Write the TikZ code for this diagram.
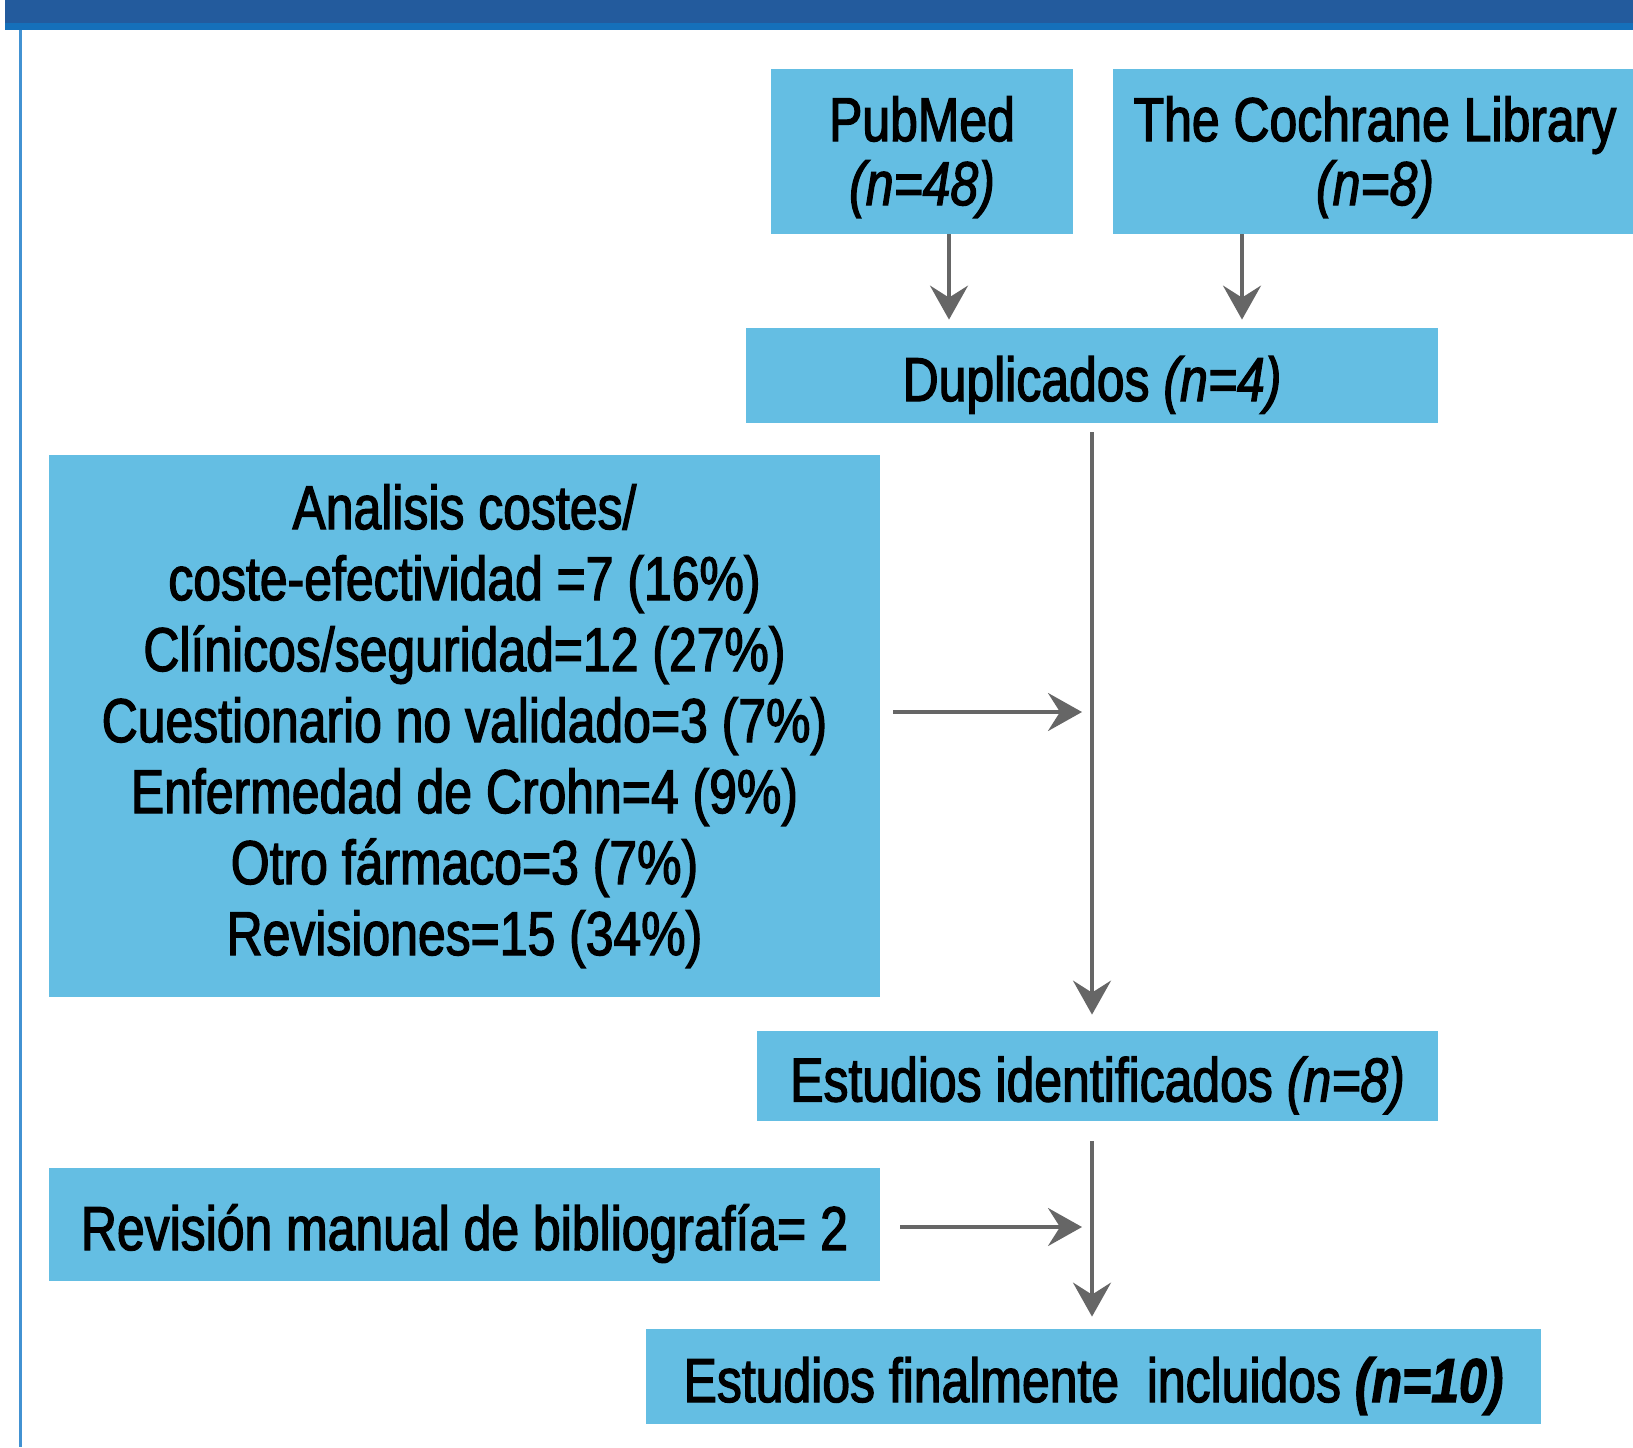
\documentclass[tikz,border=0pt]{standalone}
\usepackage{fontspec}
\setmainfont[FakeStretch=0.805,FakeBold=2]{Liberation Sans}
\usetikzlibrary{arrows.meta}
\definecolor{boxcolor}{RGB}{100,190,227}
\definecolor{arrowcolor}{RGB}{102,102,102}
\definecolor{barcolor}{RGB}{35,91,157}
\definecolor{barline}{RGB}{21,112,186}
\definecolor{framecolor}{RGB}{66,146,210}
\newcommand{\topstrut}{\rule{0pt}{28pt}}
\tikzset{
  flowbox/.style={fill=boxcolor, inner sep=0pt, align=center,
    font=\fontsize{31pt}{35.5pt}\selectfont},
  oneline/.style={text height=32pt, text depth=6.5pt},
  twoline/.style={font=\fontsize{31pt}{32pt}\selectfont},
  arr/.style={draw=arrowcolor, line width=1.8pt,
    -{Stealth[length=17pt, width=19pt, inset=6pt]}},
}
\begin{document}
\begin{tikzpicture}[x=0.5pt, y=-0.5pt]
\useasboundingbox (0,0) rectangle (1633,1447);
% frame
\fill[barline] (5,0) rectangle (1633,30);
\fill[barcolor] (5,0) rectangle (1633,23);
\draw[framecolor, line width=1.5pt] (20,30) -- (20,1447);
% boxes
\node[flowbox, twoline, minimum width=151pt, minimum height=82.5pt] (pub) at (922,151.5)
  {\topstrut PubMed\\\textit{(n=48)}};
\node[flowbox, twoline, minimum width=262pt, minimum height=82.5pt] (coch) at (1375,151.5)
  {\topstrut The Cochrane Library\\\textit{(n=8)}};
\node[flowbox, oneline, minimum width=346pt, minimum height=47.5pt] (dup) at (1092,375.5)
  {Duplicados \textit{(n=4)}};
\node[flowbox, minimum width=415.5pt, minimum height=271pt] (excl) at (464.5,726)
  {Analisis costes/\\coste-efectividad =7 (16\%)\\Clínicos/seguridad=12 (27\%)\\
   Cuestionario no validado=3 (7\%)\\Enfermedad de Crohn=4 (9\%)\\
   Otro fármaco=3 (7\%)\\Revisiones=15 (34\%)};
\node[flowbox, oneline, minimum width=340.5pt, minimum height=45pt] (ident) at (1097.5,1076)
  {Estudios identificados \textit{(n=8)}};
\node[flowbox, oneline, minimum width=415.5pt, minimum height=56.5pt] (manual) at (464.5,1224.5)
  {Revisión manual de bibliografía= 2};
\node[flowbox, oneline, minimum width=447.5pt, minimum height=47.5pt] (final) at (1093.5,1376.5)
  {Estudios finalmente~ incluidos \textbf{\textit{(n=10)}}};
% arrows
\draw[arr, shorten >=4pt] ([xshift=13.5pt]pub.south) -- ([xshift=13.5pt]pub.south |- dup.north);
\draw[arr, shorten >=4pt] ([xshift=-66.5pt]coch.south) -- ([xshift=-66.5pt]coch.south |- dup.north);
\draw[arr, shorten <=4.5pt, shorten >=8pt] (dup.south) -- (dup.south |- ident.north);
\draw[arr, shorten <=6.5pt, shorten >=5pt] ([yshift=7pt]excl.east) -- ([yshift=7pt]excl.east -| dup.south);
\draw[arr, shorten <=10pt, shorten >=6pt] (ident.south -| dup.south) -- (final.north -| dup.south);
\draw[arr, shorten <=10pt, shorten >=5pt] ([yshift=-1.25pt]manual.east) -- ([yshift=-1.25pt]manual.east -| dup.south);
\end{tikzpicture}
\end{document}
